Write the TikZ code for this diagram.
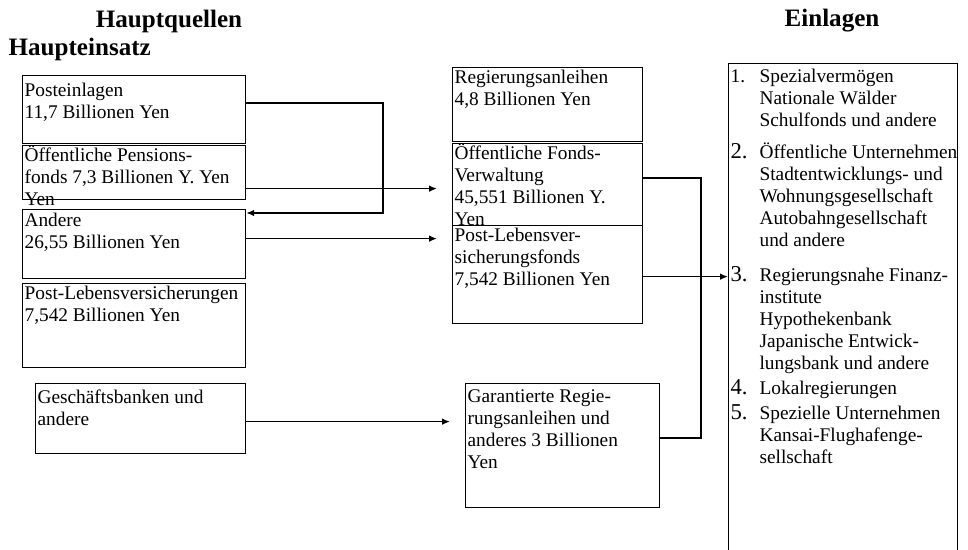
\documentclass[tikz,border=0pt]{standalone}
\usepackage{fontspec}
\setmainfont{Liberation Serif}
\usetikzlibrary{arrows.meta,calc}
\newcommand{\ktext}[3]{\parbox[t][#2][t]{#1}{\raggedright\strut #3}}
\newcommand{\nr}[1]{\makebox[21.75pt][l]{#1}}
\newcommand{\gnr}[1]{\makebox[21.75pt][l]{\fontsize{17}{16.5}\selectfont #1}}
\newcommand{\ein}{\hspace*{21.75pt}}
\tikzset{
  kasten/.style={draw, line width=0.9pt, anchor=north west, inner xsep=1.5pt, inner ysep=#1,
    font=\fontsize{14.5}{16.5}\selectfont},
  kasten/.default=0.5pt,
  kopf/.style={font=\fontsize{18.8}{22}\selectfont\bfseries, anchor=base},
  pfeil/.style={line width=1.1pt, -{Latex[length=6pt,width=5pt]}},
  linie/.style={line width=1.5pt}
}
\begin{document}
\begin{tikzpicture}[x=0.75pt,y=-0.75pt]
\path[use as bounding box, fill=white] (0,0) rectangle (968,550);

\node[kopf] (quellen) at (169,27) {Hauptquellen};
\node[kopf, anchor=base west] (einsatz) at (4,55) {Haupteinsatz};
\node[kopf] (einlagen) at (832,26) {Einlagen};

\node[kasten=4.2pt] (post) at (22,75) {\ktext{164.25pt}{42.6pt}{Posteinlagen\\11,7 Billionen Yen}};
\node[kasten] (pension) at (22,145) {\ktext{164.25pt}{39.5pt}{Öffentliche Pensions-\\fonds 7,3 Billionen Y. Yen\\Yen}};
\node[kasten=1.2pt] (andere) at (22,209) {\ktext{164.25pt}{49.35pt}{Andere\\26,55 Billionen Yen}};
\node[kasten] (leben) at (22,283) {\ktext{164.25pt}{62pt}{Post-Lebensversicherungen\\7,542 Billionen Yen}};
\node[kasten=3.45pt] (bank) at (35,383) {\ktext{154.5pt}{45.6pt}{Geschäftsbanken und\\andere}};

\node[kasten] (anleihe) at (452,67) {\ktext{139.5pt}{54.5pt}{Regierungsanleihen\\4,8 Billionen Yen}};
\node[kasten=0.3pt] (fonds) at (452,143) {\ktext{139.5pt}{60.9pt}{Öffentliche Fonds-\\Verwaltung\\45,551 Billionen Y.\\Yen}};
\node[kasten=0pt] (pfonds) at (452,225) {\ktext{139.5pt}{73.5pt}{Post-Lebensver-\\sicherungsfonds\\7,542 Billionen Yen}};
\node[kasten=2.7pt] (garant) at (465,383) {\ktext{142.5pt}{87.6pt}{Garantierte Regie-\\rungsanleihen und\\anderes 3 Billionen\\Yen}};

\node[kasten=2.7pt] (ziel) at (728,63) {\ktext{168.75pt}{362.1pt}{\begin{tabular}[t]{@{}l@{}}
\nr{1.}Spezialvermögen\\
\ein Nationale Wälder\\
\ein Schulfonds und andere\\[7.5pt]
\gnr{2.}Öffentliche Unternehmen\\
\ein Stadtentwicklungs- und\\
\ein Wohnungsgesellschaft\\
\ein Autobahngesellschaft\\
\ein und andere\\[9.75pt]
\gnr{3.}Regierungsnahe Finanz-\\
\ein institute\\
\ein Hypothekenbank\\
\ein Japanische Entwick-\\
\ein lungsbank und andere\\[2.25pt]
\gnr{4.}Lokalregierungen\\[2.25pt]
\gnr{5.}Spezielle Unternehmen\\
\ein Kansai-Flughafenge-\\
\ein sellschaft
\end{tabular}}};

\draw[pfeil, line width=1.5pt] ($(post.north east)+(0,28)$) -- ++(137,0) |- ($(andere.north east)+(0,4)$);
\draw[pfeil] ($(pension.east)+(0,16)$) coordinate (p2) -- ($(fonds.west |- p2)+(-15,0)$);
\draw[pfeil] ($(andere.east)+(0,-5.5)$) coordinate (p3) -- ($(pfonds.west |- p3)+(-15,0)$);
\draw[pfeil] ($(bank.east)+(0,3)$) coordinate (p4) -- ($(garant.west |- p4)+(-15,0)$);
\draw[linie] ($(fonds.east)+(0,-7)$) -- ++(58,0) |- ($(garant.east)+(0,-8)$);
\draw[pfeil] ($(pfonds.east)+(0,2)$) coordinate (p6) -- (p6 -| ziel.west);
\end{tikzpicture}
\end{document}
